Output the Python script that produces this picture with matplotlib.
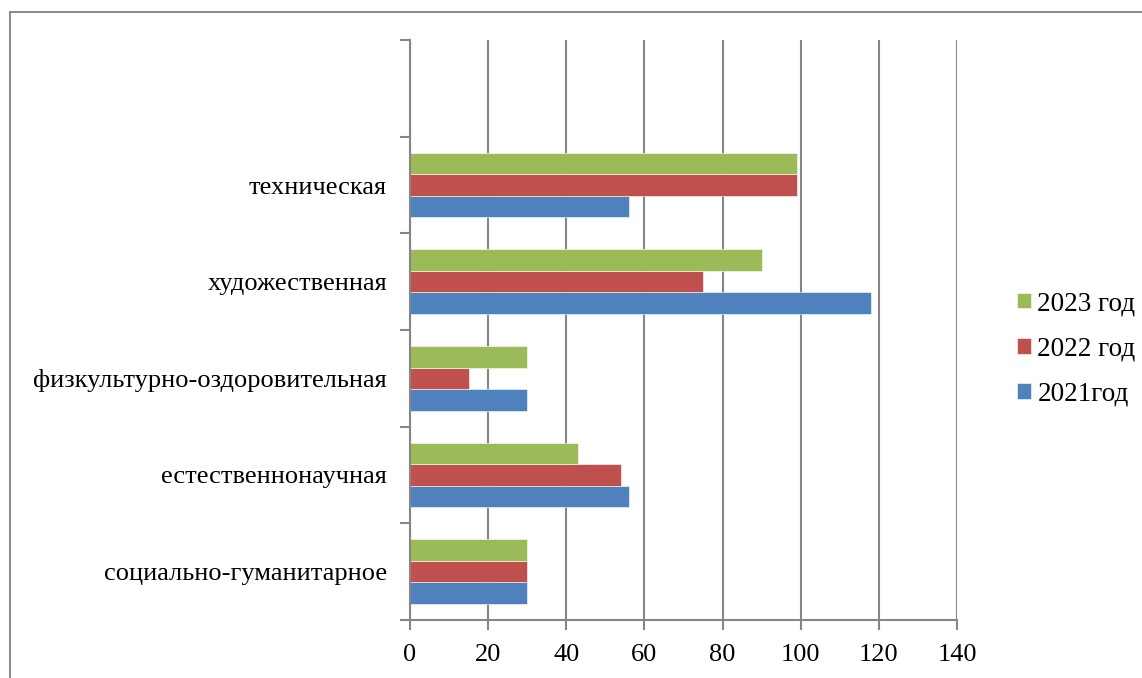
import matplotlib.pyplot as plt
import numpy as np
from matplotlib.patches import Rectangle

# категории снизу вверх, верхний слот пустой как в исходной диаграмме
categories = ["социально-гуманитарное", "естественнонаучная",
              "физкультурно-оздоровительная", "художественная", "техническая", ""]
y2021 = [30, 56, 30, 118, 56, 0]
y2022 = [30, 54, 15, 75, 99, 0]
y2023 = [30, 43, 30, 90, 99, 0]
series_names = ["2021год", "2022 год", "2023 год"]
colors = ["#4F81BD", "#C0504D", "#9BBB59"]
xticks = [0, 20, 40, 60, 80, 100, 120, 140]

plt.rcParams['font.family'] = ['Liberation Serif', 'DejaVu Serif']

fig = plt.figure(figsize=(11.42, 6.78), dpi=100)
ax = fig.add_axes([410/1142, 58/678, 547/1142, 580/678])

# рамка области диаграммы
fig.patches.append(Rectangle((10/1142, -0.1), 1.2, 1.1 - 12/678,
                             transform=fig.transFigure, fill=False,
                             edgecolor="#8c8c8c", linewidth=1.5))

pos = np.arange(len(categories))
h = 0.222
handles = []
for i, (vals, c, name) in enumerate(zip([y2021, y2022, y2023], colors, series_names)):
    b = ax.barh(pos + (i - 1) * h, vals, height=h, color=c,
                edgecolor="white", linewidth=0.4, label=name, zorder=3)
    handles.append(b)

ax.set_xlim(0, 140)
ax.set_ylim(-0.5, len(categories) - 0.5)
ax.set_xticks(xticks)
ax.set_xticklabels([str(t) for t in xticks], fontsize=19)
ax.tick_params(axis='x', direction='out', length=7, width=1.5, color="#868686", pad=10)

ax.set_yticks(pos)
ax.set_yticklabels(categories, fontsize=19)
ax.tick_params(axis='y', which='major', length=0, pad=16.5)
ax.set_yticks(np.arange(-0.5, len(categories), 1.0), minor=True)
ax.tick_params(axis='y', which='minor', direction='out', length=7, width=1.5, color="#868686")

ax.grid(axis='x', color="#868686", linewidth=1.5, zorder=0)
for s in ['top', 'right']:
    ax.spines[s].set_visible(False)
for s in ['left', 'bottom']:
    ax.spines[s].set_color("#868686")
    ax.spines[s].set_linewidth(1.5)
    ax.spines[s].set_zorder(4)

leg = fig.legend(handles[::-1], series_names[::-1], loc='center left',
                 bbox_to_anchor=(1017/1142, 1 - 349/678), frameon=False,
                 fontsize=19.5, handlelength=0.5, handleheight=0.5,
                 handletextpad=0.25, labelspacing=0.75, borderaxespad=0,
                 borderpad=0)

fig.savefig("out.png", dpi=100)
